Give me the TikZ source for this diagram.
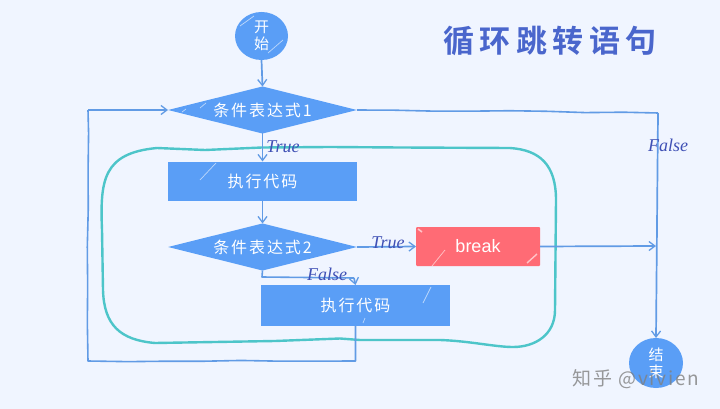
\documentclass[tikz,border=0pt]{standalone}
\usepackage{fontspec}
\setmainfont{Liberation Sans}
\newfontfamily\cjk[LetterSpace=12]{Noto Sans CJK SC}
\newfontfamily\cjktitle[LetterSpace=18,BoldFont={Noto Sans CJK SC Bold}]{Noto Sans CJK SC}
\newfontfamily\wmfont[LetterSpace=9]{Noto Sans CJK SC}
\newfontfamily\hand{Liberation Serif}
\usetikzlibrary{shapes.geometric,arrows.meta,decorations.pathmorphing,calc}
\definecolor{bgc}{HTML}{F0F5FF}
\definecolor{bluefill}{HTML}{5A9EF6}
\definecolor{redfill}{HTML}{FF6B75}
\definecolor{tealc}{HTML}{4DC5C9}
\definecolor{linec}{HTML}{619BE5}
\definecolor{handc}{HTML}{3F50B5}
\definecolor{titlec}{HTML}{4A66CC}
\tikzset{
  every node/.style={inner sep=0pt,outer sep=0pt},
  blocktext/.style={text=white,font=\cjk\fontsize{16}{20}\selectfont},
  flowbox/.style={rectangle,fill=bluefill,blocktext,minimum width=189,minimum height=39},
  redbox/.style={rectangle,fill=redfill,rounded corners=1,text=white,font=\fontsize{18}{20}\selectfont,minimum width=124,minimum height=39},
  decision/.style={diamond,fill=bluefill,blocktext,shape aspect=4,minimum width=189,minimum height=47},
  terminal/.style={ellipse,fill=bluefill,text=white,align=center,font=\cjk\fontsize{15}{19}\selectfont},
  conn/.style={draw=linec,line width=1.7,line join=round,-{Straight Barb[length=6,width=9,line width=1.3]}},
  plainconn/.style={draw=linec,line width=1.6,line join=round},
  wob/.style={decorate,decoration={random steps,segment length=38,amplitude=0.8}},
  lab/.style={text=handc,font=\hand\itshape\fontsize{18}{20}\selectfont},
  shine/.style={draw=white,opacity=0.6,line width=0.7},
}
\begin{document}
\begin{tikzpicture}[x=1pt,y=-1pt]
\pgfmathsetseed{7}
\useasboundingbox (0,0) rectangle (720,409);
\fill[bgc] (0,0) rectangle (720,409);

% teal rounded loop
\draw[tealc,line width=2.4,line cap=round,line join=round]
  (157,148) -- (205,150) -- (262,147.5) -- (330,147) -- (400,147.5) -- (510,148)
  .. controls (540,150) and (556,165) .. (556,200)
  -- (555,310)
  .. controls (555,335) and (535,347) .. (513,347)
  .. controls (495,347) and (470,341) .. (440,340)
  -- (360,340) -- (340,338.5) -- (275,341) -- (155,343)
  .. controls (120,340) and (104,325) .. (103,290)
  -- (102,230)
  .. controls (100,180) and (103,153) .. (157,148) -- cycle;

% nodes
\node[terminal,minimum width=53,minimum height=48] (start) at (261.5,36) {开\\[-2pt]始};
\node[decision] (d1) at (262.5,110) {条件表达式1};
\node[flowbox] (b1) at (262.5,181) {执行代码};
\node[decision] (d2) at (262.5,247) {条件表达式2};
\node[flowbox,minimum height=41] (b2) at (355.5,305.5) {执行代码};
\node[redbox] (brk) at (478,246.5) {break};
\node[terminal,minimum width=54,minimum height=50] (end) at (656,363) {结\\[-2pt]束};
\node[text=titlec,font=\cjktitle\bfseries\fontsize{31}{36}\selectfont] (title) at (550,41) {循环跳转语句};

% free points of the connectors
\coordinate (loopA) at ($(b2.south)+(0,35)$);
\coordinate (loopB) at (88,361);
\coordinate (loopC) at (88,110);
\coordinate (rightA) at (658,113);
\coordinate (brkEnd) at (656,246);
\coordinate (fA) at (262,277);
\coordinate (fB) at (354,278);

% connectors
\draw[conn] (start.south) -- (d1.north);
\draw[conn] (d1.south) -- (b1.north);
\draw[conn] (b1.south) -- (d2.north);
\draw[conn] (d2.east) -- (brk.west);
\draw[plainconn] (d2.south) -- (fA) -- (fB);
\draw[conn] (fB) -- (b2.north);
\draw[conn] (brk.east) -- (brkEnd);
\draw[plainconn,wob] (d1.east) -- (rightA);
\draw[conn] (rightA) -- (end.north);
\draw[plainconn,wob] (b2.south) -- (loopA) -- (loopB) -- (loopC);
\draw[conn] (loopC) -- (d1.west);

% highlights
\draw[shine] (182,112) -- (186,109);
\draw[shine] (200,108) -- (206,103);
\draw[shine] (200,180) -- (216,163);
\draw[shine] (363,323) -- (365,318);
\draw[shine] (423,303) -- (431,287);
\draw[shine,line width=1.4] (527,263) -- (537,254);
\draw[shine] (432,266) -- (445,250);
\draw[shine,line width=1.6] (418,229) -- (422,232);
\draw[shine] (240,26) -- (254,16);
\draw[shine] (268,53) -- (283,40);

% labels
\node[lab] (t1) at (283,147) {True};
\node[lab] (t2) at (388,243) {True};
\node[lab] (f1) at (327,274) {False};
\node[lab] (f2) at (668,145) {False};
\node[text=gray,opacity=0.8,font=\wmfont\fontsize{19}{21}\selectfont] (wm) at (636,379) {知乎 @vivien};
\end{tikzpicture}
\end{document}
